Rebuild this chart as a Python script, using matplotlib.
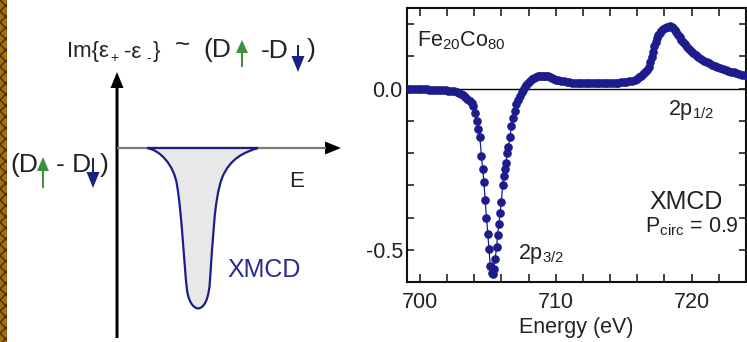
import numpy as np
import matplotlib
matplotlib.use("Agg")
import matplotlib.pyplot as plt
from matplotlib import font_manager as fm
from matplotlib.patches import FancyArrow, Rectangle, PathPatch
from matplotlib.path import Path

# ---------------- measured XMCD spectrum (Fe20Co80, L-edges) ----------------
energy_ev = [
    699.10, 699.30, 699.50, 699.70, 699.90, 700.10, 700.30, 700.50, 700.70, 700.90,
    701.10, 701.30, 701.50, 701.70, 701.90, 702.10, 702.30, 702.50, 702.70, 702.90,
    703.05, 703.20, 703.35, 703.50, 703.65, 703.80, 703.92, 704.04, 704.17, 704.29,
    704.41, 704.53, 704.62, 704.71, 704.80, 704.90, 705.00, 705.08, 705.18, 705.27,
    705.35, 705.43, 705.53, 705.64, 705.72, 705.81, 705.90, 706.00, 706.08, 706.16,
    706.25, 706.33, 706.42, 706.52, 706.62, 706.74, 706.86, 706.98, 707.10, 707.23,
    707.35, 707.48, 707.60, 707.72, 707.84, 707.96, 708.10, 708.25, 708.40, 708.55,
    708.70, 708.85, 709.00, 709.15, 709.30, 709.45, 709.60, 709.75, 709.90, 710.05,
    710.20, 710.40, 710.60, 710.80, 711.00, 711.20, 711.40, 711.60, 711.80, 712.00,
    712.20, 712.40, 712.60, 712.80, 713.00, 713.20, 713.40, 713.60, 713.80, 714.00,
    714.20, 714.40, 714.60, 714.80, 715.00, 715.20, 715.40, 715.60, 715.80, 716.00,
    716.15, 716.30, 716.45, 716.60, 716.72, 716.84, 716.95, 717.05, 717.15, 717.25,
    717.35, 717.45, 717.55, 717.65, 717.78, 717.90, 718.02, 718.15, 718.28, 718.40,
    718.52, 718.64, 718.76, 718.88, 719.00, 719.12, 719.25, 719.38, 719.50, 719.65,
    719.80, 719.95, 720.10, 720.30, 720.50, 720.70, 720.90, 721.10, 721.30, 721.50,
    721.70, 721.90, 722.10, 722.30, 722.50, 722.70, 722.90, 723.10, 723.30, 723.50,
    723.70, 723.90,
]
xmcd_signal = [
    0.000, 0.000, -0.001, -0.001, -0.001, -0.002, -0.002, -0.002, -0.003, -0.003,
    -0.003, -0.004, -0.004, -0.004, -0.005, -0.006, -0.007, -0.008, -0.010, -0.013,
    -0.017, -0.021, -0.026, -0.031, -0.037, -0.045, -0.055, -0.075, -0.100, -0.125,
    -0.150, -0.210, -0.250, -0.290, -0.345, -0.400, -0.450, -0.497, -0.550, -0.572,
    -0.575, -0.560, -0.530, -0.492, -0.455, -0.419, -0.385, -0.352, -0.300, -0.270,
    -0.248, -0.230, -0.200, -0.180, -0.150, -0.117, -0.090, -0.068, -0.048, -0.035,
    -0.022, -0.012, -0.004, 0.004, 0.012, 0.018, 0.025, 0.030, 0.034, 0.036,
    0.038, 0.039, 0.040, 0.040, 0.040, 0.038, 0.035, 0.033, 0.030, 0.028,
    0.026, 0.024, 0.022, 0.020, 0.019, 0.018, 0.018, 0.017, 0.017, 0.017,
    0.016, 0.016, 0.016, 0.016, 0.016, 0.016, 0.016, 0.017, 0.017, 0.017,
    0.017, 0.018, 0.018, 0.019, 0.019, 0.020, 0.022, 0.024, 0.027, 0.031,
    0.035, 0.040, 0.045, 0.051, 0.058, 0.068, 0.082, 0.098, 0.115, 0.132,
    0.146, 0.157, 0.165, 0.171, 0.178, 0.184, 0.187, 0.190, 0.192, 0.193,
    0.191, 0.187, 0.181, 0.174, 0.167, 0.160, 0.152, 0.144, 0.138, 0.130,
    0.123, 0.116, 0.110, 0.103, 0.097, 0.092, 0.087, 0.082, 0.078, 0.074,
    0.071, 0.068, 0.065, 0.062, 0.059, 0.056, 0.053, 0.051, 0.048, 0.046,
    0.043, 0.041,
]

x_major_ticks = [700, 710, 720]
x_tick_labels = ["700", "710", "720"]
y_major_ticks = [0.0, -0.5]
y_tick_labels = ["0.0", "-0.5"]

# ---------------- schematic trough outline (pixel space, y downwards) ----------------
trough_vertices = [
    (147, 148), (160, 150), (174, 165), (177, 185),
    (182, 215), (184, 265), (187, 290),
    (189, 305), (196, 310), (200, 308),
    (205, 306), (209, 298), (210, 280),
    (213, 240), (214, 200), (222, 178),
    (230, 158), (245, 152), (258, 148),
    (147, 148),
]
trough_codes = ([Path.MOVETO] + [Path.CURVE4] * 18 + [Path.LINETO])

# ---------------- fonts ----------------
SANS = "Liberation Sans"
plt.rcParams["font.family"] = [SANS, "DejaVu Sans"]
plt.rcParams["mathtext.default"] = "regular"

NAVY = "#1c1c8c"
GREEN = "#3f913f"
ARROW_BLUE = "#1a2380"
INK = "#222222"

W, H = 747, 342
fig = plt.figure(figsize=(W / 100, H / 100), dpi=100)
fig.patch.set_facecolor("white")

# ---------------- left: schematic drawn in pixel coordinates ----------------
sk = fig.add_axes([0, 0, 1, 1])
sk.set_xlim(0, W)
sk.set_ylim(H, 0)
sk.axis("off")

sk.add_patch(Rectangle((0, 0), 7, H, facecolor="#a36c12", edgecolor="#4a2c05",
                       hatch="xxx", linewidth=0))

# energy axis (gray) with black head
sk.plot([117, 326], [148, 148], color="#7d7d7d", lw=1.6, solid_capstyle="butt")
sk.add_patch(FancyArrow(323, 148, 18, 0, width=0.6, head_width=13, head_length=16,
                        length_includes_head=True, color="black", lw=0))
# vertical axis arrow
sk.add_patch(FancyArrow(117, 338, 0, -266, width=3, head_width=13, head_length=16,
                        length_includes_head=True, color="black", lw=0))

trough = PathPatch(Path(trough_vertices, trough_codes), facecolor="#e8e8e8",
                   edgecolor=NAVY, lw=1.6, zorder=3)
sk.add_patch(trough)

fs_eps = 16
fs_top = 19
sk.text(67, 57.5, "Im{ε", fontsize=fs_eps, color=INK, va="baseline")
sk.text(110, 62, "+", fontsize=10, color=INK, va="baseline")
sk.text(124, 57.5, "-ε", fontsize=fs_eps, color=INK, va="baseline")
sk.text(146, 62, "-", fontsize=10, color=INK, va="baseline")
sk.text(153, 57.5, "}", fontsize=fs_eps, color=INK, va="baseline")
sk.text(182, 52, "~", fontsize=fs_top, color=INK, va="baseline", ha="center")
sk.text(203, 57.5, "(D", fontsize=fs_top, color=INK, va="baseline")
sk.text(261, 57.5, "-D", fontsize=fs_top, color=INK, va="baseline")
sk.text(307, 57.5, ")", fontsize=fs_top, color=INK, va="baseline")
sk.add_patch(FancyArrow(242, 67, 0, -27, width=2, head_width=12, head_length=13,
                        length_includes_head=True, color=GREEN, lw=0))
sk.add_patch(FancyArrow(298, 45, 0, 27, width=2, head_width=13, head_length=16,
                        length_includes_head=True, color=ARROW_BLUE, lw=0))

sk.text(10, 172, "(D", fontsize=fs_top, color=INK, va="baseline")
sk.text(56, 172, "- D", fontsize=fs_top, color=INK, va="baseline")
sk.text(100, 172, ")", fontsize=fs_top, color=INK, va="baseline")
sk.add_patch(FancyArrow(43, 188, 0, -31, width=2, head_width=12, head_length=14,
                        length_includes_head=True, color=GREEN, lw=0))
sk.add_patch(FancyArrow(93, 158, 0, 30, width=2, head_width=13, head_length=16,
                        length_includes_head=True, color=ARROW_BLUE, lw=0))

sk.text(289, 187, "E", fontsize=16, color=INK, va="baseline")
sk.text(227, 277, "XMCD", fontsize=18, color="#2a2a90", va="baseline")

# ---------------- right: measured spectrum ----------------
ax = fig.add_axes([407 / W, (H - 282) / H, (746 - 407) / W, (282 - 8) / H])
ax.set_xlim(699.05, 724.0)
ax.set_ylim(-0.60, 0.25)
ax.axhline(0.0, color="black", lw=1.0, zorder=1)
ax.plot(energy_ev, xmcd_signal, color=NAVY, lw=0.9, marker="o", ms=5.2,
        mec=NAVY, mfc=NAVY, zorder=3)

ax.set_xticks(x_major_ticks)
ax.set_xticklabels(x_tick_labels)
ax.set_xticks(np.arange(702, 724, 2), minor=True)
ax.set_yticks(y_major_ticks)
ax.set_yticklabels(y_tick_labels)
ax.set_yticks([0.2, 0.1, -0.1, -0.2, -0.3, -0.4], minor=True)
ax.tick_params(which="both", direction="in", top=True, right=True, width=1.2,
               colors=INK, labelsize=15.5)
ax.tick_params(axis="x", which="both", length=6, pad=7)
ax.tick_params(axis="y", which="both", length=5, pad=3)
for s in ax.spines.values():
    s.set_linewidth(1.5)
    s.set_color("#111111")
ax.set_xlabel("Energy (eV)", fontsize=15.5, color=INK, labelpad=3)

ax.text(699.75, 0.132, "Fe$_{20}$Co$_{80}$", fontsize=15.5, color=INK, va="baseline")
ax.text(718.26, -0.083, "2p$_{1/2}$", fontsize=15.5, color=INK, va="baseline")
ax.text(707.23, -0.528, "2p$_{3/2}$", fontsize=15.5, color=INK, va="baseline")
ax.text(716.91, -0.372, "XMCD", fontsize=18, color=INK, va="baseline")
ax.text(716.54, -0.446, "P$_{circ}$ = 0.9", fontsize=15.5, color=INK, va="baseline")

fig.savefig("out.png", dpi=100)
